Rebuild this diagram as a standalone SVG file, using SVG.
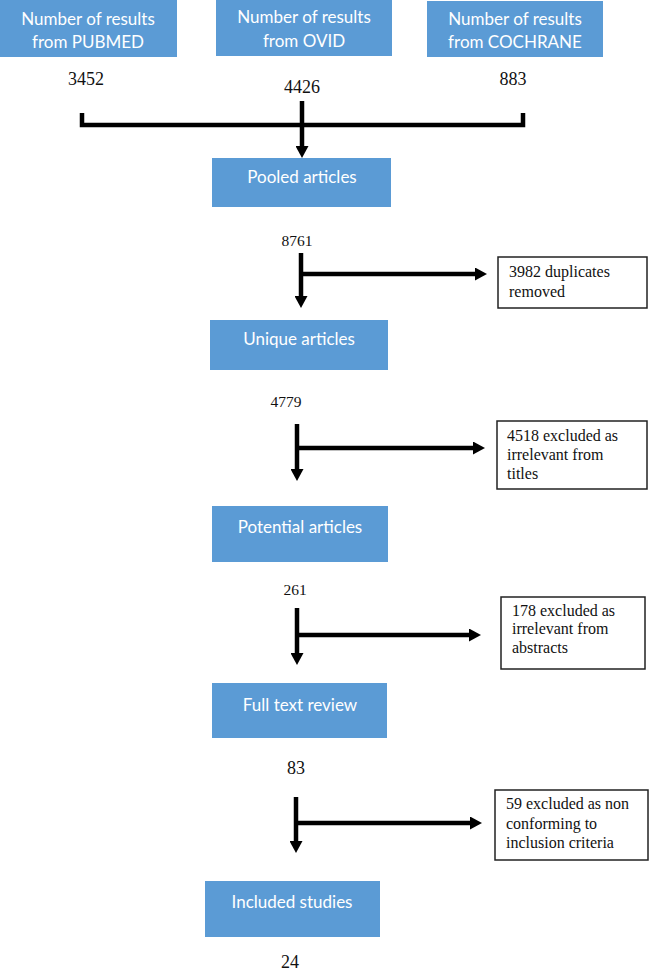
<svg xmlns="http://www.w3.org/2000/svg" width="650" height="973" viewBox="0 0 650 973">
<style>
.blue{fill:#5B9BD5}
.bt{font-family:Lato,"Open Sans",sans-serif;font-size:17px;fill:#ffffff;text-anchor:middle}
.num{font-family:"Liberation Serif",serif;fill:#111;text-anchor:middle}
.ex{fill:#ffffff;stroke:#222;stroke-width:1.5}
.et{font-family:"Liberation Serif",serif;font-size:16px;fill:#111}
.ln{stroke:#000;stroke-width:4.5;fill:none}
.ar{stroke:#000;stroke-width:4.5;fill:none;marker-end:url(#ah)}
</style>
<defs>
<marker id="ah" markerUnits="userSpaceOnUse" markerWidth="13" markerHeight="13" refX="1" refY="6.5" orient="auto">
<path d="M0,0 L12,6.5 L0,13 z" fill="#000"/>
</marker>
</defs>
<rect width="650" height="973" fill="#ffffff"/>

<g id="pubmed">
<rect class="blue" x="0" y="0" width="177" height="57"/>
<text class="bt" x="88" y="25">Number of results</text>
<text class="bt" x="88" y="48">from PUBMED</text>
</g>
<g id="ovid">
<rect class="blue" x="216" y="0" width="176" height="56"/>
<text class="bt" x="304" y="23">Number of results</text>
<text class="bt" x="304" y="47">from OVID</text>
</g>
<g id="cochrane">
<rect class="blue" x="427" y="1" width="176" height="56"/>
<text class="bt" x="515" y="25">Number of results</text>
<text class="bt" x="515" y="48">from COCHRANE</text>
</g>

<g id="counts-top">
<text class="num" font-size="18" x="86" y="85">3452</text>
<text class="num" font-size="18" x="302" y="93">4426</text>
<text class="num" font-size="18" x="513" y="85">883</text>
</g>

<g id="pooled">
<rect class="blue" x="212" y="158" width="179" height="49"/>
<text class="bt" x="302" y="183">Pooled articles</text>
</g>
<g id="unique">
<rect class="blue" x="210" y="320" width="178" height="50"/>
<text class="bt" x="299" y="345">Unique articles</text>
</g>
<g id="potential">
<rect class="blue" x="212" y="506" width="176" height="56"/>
<text class="bt" x="300" y="533">Potential articles</text>
</g>
<g id="fulltext">
<rect class="blue" x="212" y="683" width="175" height="55"/>
<text class="bt" x="300" y="711">Full text review</text>
</g>
<g id="included">
<rect class="blue" x="205" y="881" width="175" height="56"/>
<text class="bt" x="292" y="908">Included studies</text>
</g>

<g id="counts">
<text class="num" font-size="15.5" x="297" y="246">8761</text>
<text class="num" font-size="15.5" x="286" y="407">4779</text>
<text class="num" font-size="15.5" x="295" y="595">261</text>
<text class="num" font-size="18" x="296" y="774">83</text>
<text class="num" font-size="18" x="290" y="968">24</text>
</g>

<g id="dup">
<rect class="ex" x="498" y="257" width="149" height="51"/>
<text class="et" x="509" y="277">3982 duplicates</text>
<text class="et" x="509" y="297">removed</text>
</g>
<g id="titles">
<rect class="ex" x="497" y="421" width="150" height="68"/>
<text class="et" x="507" y="441">4518 excluded as</text>
<text class="et" x="507" y="460">irrelevant from</text>
<text class="et" x="507" y="479">titles</text>
</g>
<g id="abstracts">
<rect class="ex" x="501" y="597" width="144" height="72"/>
<text class="et" x="512" y="616">178 excluded as</text>
<text class="et" x="512" y="634">irrelevant from</text>
<text class="et" x="512" y="653">abstracts</text>
</g>
<g id="criteria">
<rect class="ex" x="495" y="790" width="153" height="70"/>
<text class="et" x="506" y="809">59 excluded as non</text>
<text class="et" x="506" y="829">conforming to</text>
<text class="et" x="506" y="848">inclusion criteria</text>
</g>

<g id="connectors">
<polyline class="ln" points="82,113 82,125 523,125 523,113"/>
<line class="ar" x1="302" y1="101" x2="302" y2="147"/>
<line class="ar" x1="301" y1="253" x2="301" y2="297"/>
<line class="ar" x1="299" y1="274" x2="476" y2="274"/>
<line class="ar" x1="297" y1="424" x2="297" y2="470"/>
<line class="ar" x1="295" y1="448" x2="474" y2="448"/>
<line class="ar" x1="297" y1="608" x2="297" y2="654"/>
<line class="ar" x1="295" y1="635" x2="470" y2="635"/>
<line class="ar" x1="296" y1="797" x2="296" y2="842"/>
<line class="ar" x1="294" y1="823" x2="471" y2="823"/>
</g>
</svg>
